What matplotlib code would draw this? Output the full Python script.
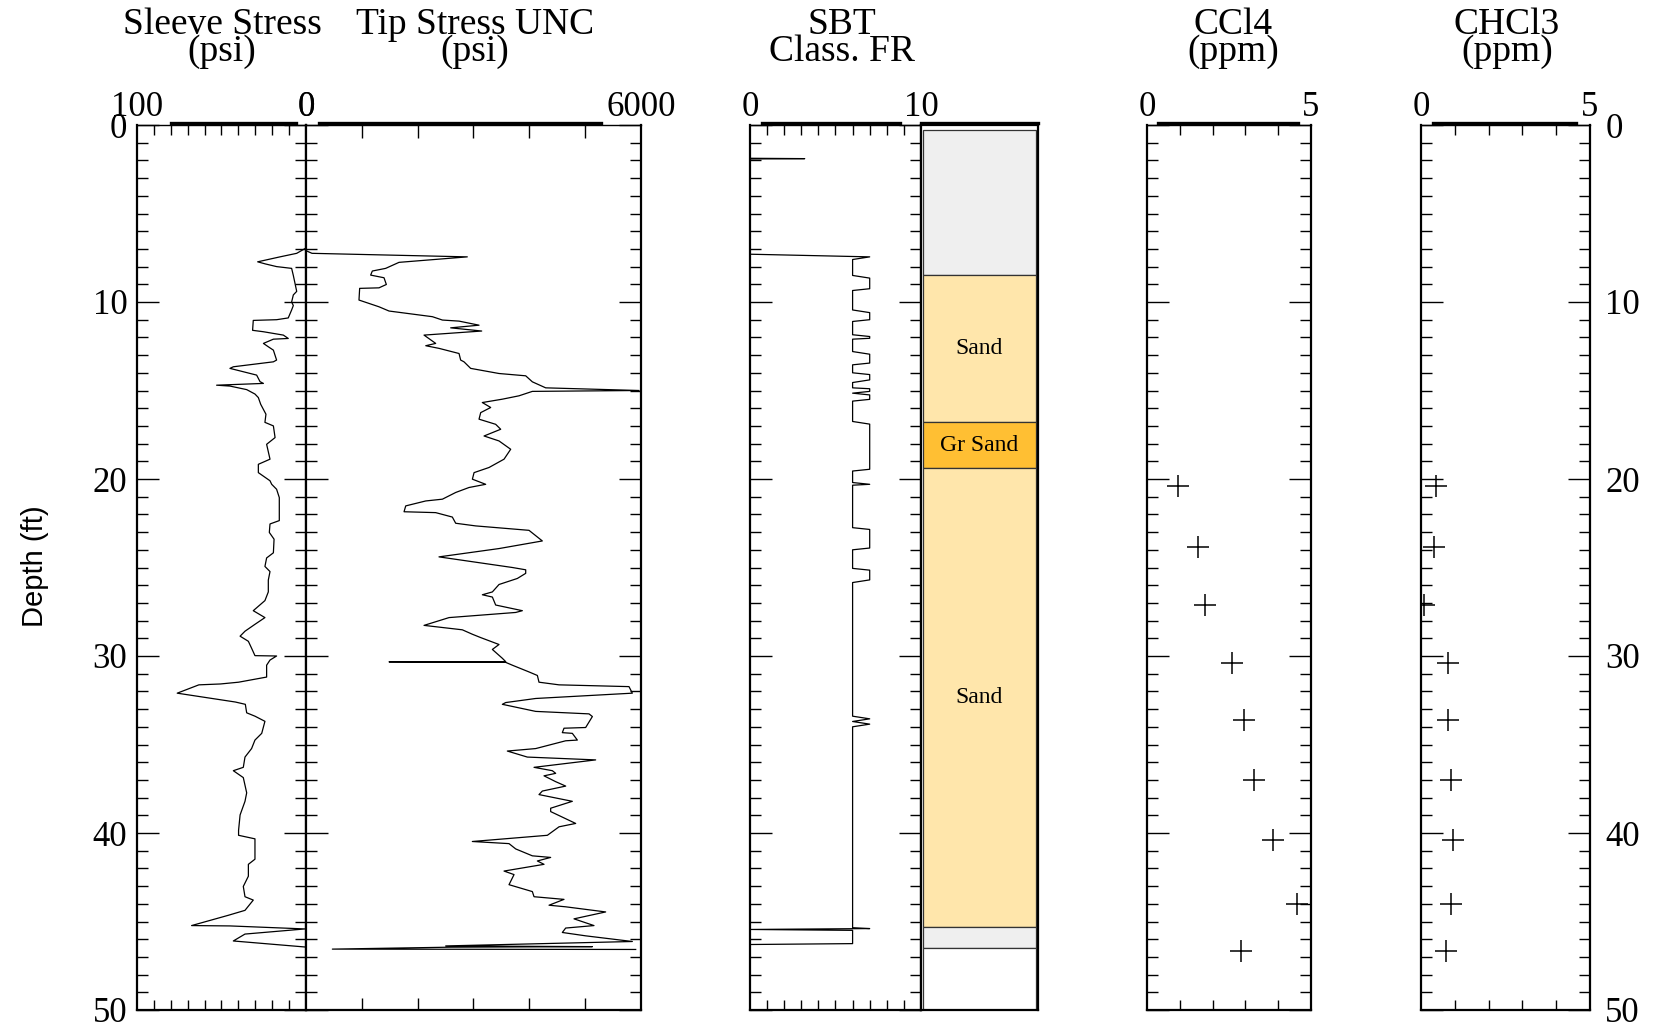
import matplotlib
matplotlib.use("Agg")
import matplotlib.pyplot as plt
from matplotlib.ticker import MultipleLocator, FixedLocator

plt.rcParams['font.family'] = ['Liberation Serif', 'DejaVu Serif']

# sleeve stress (psi), plotted on a reversed 100..0 scale
sleeve_depth = [
    6.95, 7.25, 7.45, 7.73, 7.85, 8.0, 8.1, 8.5, 8.95, 9.4,
    9.6, 10.0, 10.2, 10.45, 10.9, 11.0, 11.04, 11.6, 11.68, 11.87,
    12.06, 12.1, 12.34, 12.53, 12.72, 13.28, 13.38, 13.66, 13.75, 14.13,
    14.5, 14.6, 14.7, 14.75, 14.95, 15.2, 15.4, 15.78, 16.34, 16.8,
    17.0, 17.66, 18.04, 18.88, 19.17, 19.64, 20.1, 20.3, 20.58, 21.05,
    22.35, 22.54, 23.02, 23.4, 24.17, 24.46, 24.94, 25.23, 25.71, 26.38,
    26.87, 27.44, 27.83, 28.21, 28.6, 28.88, 29.17, 29.56, 29.98, 30.0,
    30.23, 30.52, 31.19, 31.48, 31.58, 31.63, 32.1, 32.6, 32.73, 33.21,
    33.4, 33.69, 34.37, 34.75, 35.23, 35.71, 36.29, 36.48, 36.87, 37.73,
    38.21, 38.98, 39.85, 40.13, 40.33, 41.48, 41.77, 42.44, 43.02, 43.6,
    43.79, 44.37, 44.65, 45.23, 45.25, 45.42, 45.71, 46.1, 46.44,
]
sleeve_psi = [
    0.0, 5.5, 15.4, 28.6, 24.0, 17.4, 8.5, 7.5, 6.5, 5.5,
    7.5, 8.5, 7.5, 8.5, 10.5, 17.4, 31.2, 31.6, 25.2, 13.4,
    10.5, 19.3, 25.2, 22.3, 19.3, 17.4, 19.3, 43.0, 45.0, 29.2,
    27.2, 25.2, 52.9, 45.0, 35.1, 30.2, 28.2, 26.8, 23.7, 24.3,
    19.3, 18.3, 23.3, 21.3, 28.2, 28.2, 21.3, 20.3, 17.4, 15.8,
    15.8, 21.3, 21.7, 18.9, 19.3, 23.3, 24.3, 21.3, 22.3, 22.3,
    24.3, 31.2, 24.3, 30.2, 36.1, 39.0, 34.1, 32.2, 30.2, 17.4,
    21.3, 23.3, 23.3, 39.9, 50.6, 63.4, 76.2, 41.8, 35.9, 35.1,
    30.2, 24.3, 26.2, 30.2, 32.2, 36.1, 37.1, 43.0, 37.1, 35.1,
    36.1, 39.0, 39.9, 39.9, 30.2, 30.2, 34.1, 34.1, 37.1, 36.1,
    31.2, 36.1, 46.0, 67.7, 45.0, 0.6, 36.1, 43.0, 0.6,
]

# tip stress, uncorrected (psi)
tip_depth = [
    6.95, 7.1, 7.25, 7.45, 7.76, 8.1, 8.25, 8.48, 8.63, 9.01,
    9.2, 9.23, 9.89, 10.08, 10.27, 10.51, 10.83, 11.02, 11.08, 11.31,
    11.46, 11.64, 11.87, 12.34, 12.47, 12.62, 12.91, 13.28, 13.38, 13.66,
    13.75, 14.04, 14.17, 14.51, 14.85, 15.0, 15.05, 15.3, 15.49, 15.68,
    15.96, 16.25, 16.62, 16.91, 17.19, 17.57, 17.85, 18.32, 18.88, 19.35,
    19.64, 20.01, 20.3, 20.48, 20.76, 21.14, 21.24, 21.52, 21.85, 21.9,
    22.15, 22.5, 22.65, 22.9, 23.5, 23.93, 24.4, 25.0, 25.13, 25.33,
    25.62, 25.96, 26.38, 26.54, 26.67, 27.12, 27.44, 27.54, 27.83, 28.27,
    28.52, 28.77, 28.96, 29.35, 29.63, 30.13, 30.32, 30.33, 30.36, 30.52,
    30.9, 31.1, 31.48, 31.63, 31.73, 32.1, 32.4, 32.63, 32.73, 33.13,
    33.27, 33.42, 34.04, 34.08, 34.33, 34.37, 34.75, 34.79, 35.23, 35.37,
    35.71, 35.87, 36.29, 36.48, 36.63, 36.77, 37.1, 37.35, 37.63, 37.83,
    38.21, 38.6, 38.79, 39.46, 39.65, 40.13, 40.48, 40.6, 40.9, 41.29,
    41.38, 41.58, 41.77, 42.15, 42.35, 42.92, 43.31, 43.6, 43.75, 44.08,
    44.17, 44.46, 44.85, 45.23, 45.37, 45.62, 45.81, 46.13, 46.38, 46.42,
    46.45, 46.56, 46.58,
]
tip_psi = [
    0, 0, 107, 2889, 1666, 1427, 1188, 1158, 1397, 1439,
    1307, 961, 949, 1128, 1307, 1487, 2264, 2443, 2741, 3099,
    2591, 3147, 2114, 2323, 2145, 2383, 2741, 2770, 2830, 2920,
    2949, 3457, 3935, 4054, 4293, 5965, 4054, 3815, 3517, 3158,
    3308, 3129, 3099, 3397, 3487, 3189, 3457, 3666, 3547, 3278,
    3010, 2980, 3218, 2920, 2682, 2443, 2145, 1786, 1756, 2323,
    2621, 2681, 3039, 3994, 4233, 3457, 2382, 3696, 3935, 3935,
    3785, 3457, 3338, 3159, 3338, 3397, 3875, 3755, 2562, 2114,
    2800, 2979, 3129, 3457, 3338, 3517, 3577, 1487, 3577, 3696,
    3994, 4144, 4173, 4532, 5785, 5845, 4114, 3577, 3517, 4114,
    5069, 5129, 5009, 4621, 4591, 4770, 4860, 4651, 4114, 3606,
    3964, 5188, 4084, 4412, 4472, 4263, 4472, 4651, 4233, 4173,
    4770, 4382, 4382, 4830, 4532, 4323, 2979, 3636, 3756, 4054,
    4382, 4144, 4263, 3547, 3726, 3636, 4054, 4084, 4621, 4353,
    4651, 5367, 4800, 5158, 4651, 4591, 5009, 5845, 2502, 5129,
    2600, 472, 5905,
]

# soil behaviour type (friction ratio classification)
sbt_depth = [
    0.0, 1.88, 1.9, 1.92, 7.3, 7.45, 7.6, 8.5, 8.65, 9.25,
    9.35, 10.45, 10.6, 11.0, 11.1, 11.85, 11.95, 12.05, 12.1, 12.8,
    12.95, 13.45, 13.55, 14.0, 14.1, 14.4, 14.55, 14.85, 14.9, 15.05,
    15.15, 15.25, 15.5, 15.6, 16.75, 16.9, 19.45, 19.55, 20.2, 20.3,
    20.35, 22.75, 22.85, 23.9, 24.0, 25.05, 25.15, 25.7, 25.85, 33.4,
    33.55, 33.7, 33.85, 34.0, 45.35, 45.4, 45.45, 45.5, 46.25, 46.3,
    50.0,
]
sbt_class = [
    0, 0, 3.2, 0, 0, 7, 6, 6, 7, 7,
    6, 6, 7, 7, 6, 6, 7, 7, 6, 6,
    7, 7, 6, 6, 7, 7, 6, 6, 7, 7,
    6, 7, 7, 6, 6, 7, 7, 6, 6, 7,
    6, 6, 7, 7, 6, 6, 7, 7, 6, 6,
    7, 6, 7, 6, 6, 7, 0, 6, 6, 0,
    0,
]

# interpreted lithology column
layer_top = [0.3, 8.5, 16.8, 19.4, 45.3, 46.5]
layer_bottom = [8.5, 16.8, 19.4, 45.3, 46.5, 50.0]
layer_label = ['', 'Sand', 'Gr Sand', 'Sand', '', '']
layer_color = ['#EFEFEF', '#FFE6AB', '#FFBF33', '#FFE6AB', '#EFEFEF', '#FFFFFF']

# water samples
sample_depth = [20.4, 23.85, 27.1, 30.4, 33.6, 37.0, 40.4, 44.0, 46.65]
ccl4_ppm = [0.96, 1.55, 1.77, 2.6, 2.97, 3.26, 3.83, 4.57, 2.87]
chcl3_ppm = [0.44, 0.37, 0.1, 0.8, 0.8, 0.88, 0.95, 0.88, 0.74]

W, H = 1658, 1029
TOP, BOTTOM = 125, 1010
TICK_SIZE = 25

fig = plt.figure(figsize=(W / 100, H / 100), dpi=100)


def addTrack(x0, x1):
    return fig.add_axes([x0 / W, 1 - BOTTOM / H, (x1 - x0) / W, (BOTTOM - TOP) / H])


def setupTrack(ax, xmin, xmax, step, bar_from, bar_to):
    ax.set_xlim(xmin, xmax)
    ax.set_ylim(50, 0)
    for s in ax.spines.values():
        s.set_linewidth(1.6)
    ax.spines['top'].set_linewidth(1.0)
    ax.yaxis.set_major_locator(MultipleLocator(10))
    ax.yaxis.set_minor_locator(MultipleLocator(1))
    ax.xaxis.set_major_locator(FixedLocator([xmin, xmax]))
    ax.xaxis.set_minor_locator(MultipleLocator(step))
    ax.tick_params(which='both', direction='in', top=True, bottom=True,
                   left=True, right=True, labelbottom=False, labeltop=True,
                   labelleft=False, labelsize=TICK_SIZE)
    ax.tick_params(axis='y', which='major', length=16, width=1.0)
    ax.tick_params(axis='y', which='minor', length=8, width=1.0)
    ax.tick_params(axis='x', which='minor', length=7, width=1.0)
    ax.tick_params(axis='x', which='major', length=0, pad=1)
    # heavy rule along the top of the track
    ax.axhline(-0.12, bar_from, bar_to, color='black', lw=2.4, clip_on=False)


ax1 = addTrack(137, 306)
setupTrack(ax1, 100, 0, 10, 0.2, 0.94)
ax1.plot(sleeve_psi, sleeve_depth, color='black', lw=0.9)
ax1.tick_params(axis='y', labelleft=True, pad=7)

ax2 = addTrack(306, 641)
setupTrack(ax2, 0, 6000, 1000, 0.04, 0.88)
ax2.tick_params(axis='x', which='minor', length=9)
ax2.plot(tip_psi, tip_depth, color='black', lw=0.9)

ax3 = addTrack(750, 921)
setupTrack(ax3, 0, 10, 1, 0.07, 0.88)
ax3.plot(sbt_class, sbt_depth, color='black', lw=0.9)

ax4 = addTrack(921, 1038)
ax4.set_xlim(0, 1)
ax4.set_ylim(50, 0)
ax4.set_xticks([])
ax4.set_yticks([])
for s in ax4.spines.values():
    s.set_linewidth(1.6)
ax4.axhline(-0.12, 0, 1, color='black', lw=2.4, clip_on=False)
for top, bot, name, col in zip(layer_top, layer_bottom, layer_label, layer_color):
    ax4.bar(0.5, bot - top, bottom=top, width=0.97, color=col,
            edgecolor='#333333', linewidth=0.9)
    if name:
        ax4.text(0.5, (top + bot) / 2, name, ha='center', va='center', fontsize=17)

ax5 = addTrack(1147, 1311)
setupTrack(ax5, 0, 5, 1, 0.07, 0.92)
ax5.plot(ccl4_ppm, sample_depth, '+', color='black', ms=16, mew=1.1)

ax6 = addTrack(1421, 1590)
setupTrack(ax6, 0, 5, 1, 0.07, 0.92)
ax6.plot(chcl3_ppm, sample_depth, '+', color='black', ms=16, mew=1.1)
ax6.tick_params(axis='y', labelright=True, pad=11)

titles = [
    (222, 'Sleeve Stress\n(psi)'),
    (475, 'Tip Stress UNC\n(psi)'),
    (842, 'SBT\nClass. FR'),
    (1233, 'CCl4\n(ppm)'),
    (1507, 'CHCl3\n(ppm)'),
]
for cx, label in titles:
    fig.text(cx / W, 1 - 61 / H, label, ha='center', va='baseline',
             fontsize=27, linespacing=0.72)

fig.text(35 / W, 1 - 566 / H, 'Depth (ft)', rotation=90, ha='center',
         va='center', fontsize=21, family='Liberation Sans')

fig.savefig('out.png', dpi=100)
